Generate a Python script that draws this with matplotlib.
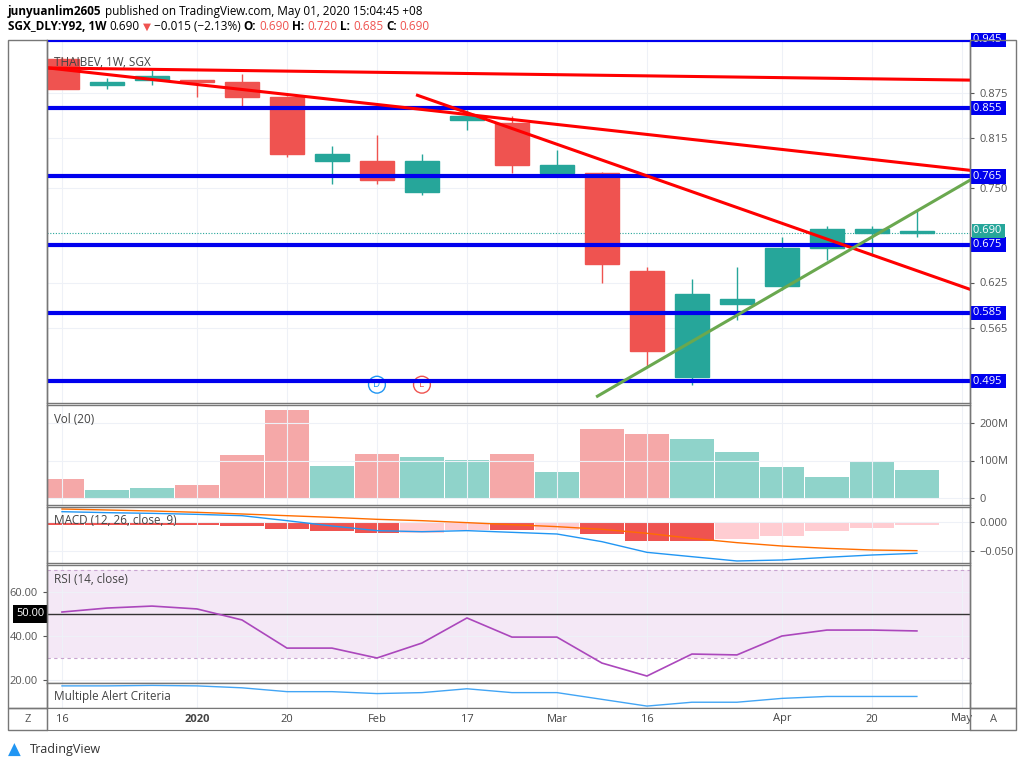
import matplotlib
matplotlib.use("Agg")
import matplotlib.pyplot as plt
from matplotlib.patches import Rectangle
from matplotlib.transforms import blended_transform_factory as btf

plt.rcParams["font.family"] = "Open Sans"

# ---------------- data ----------------
opens  = [0.920, 0.885, 0.892, 0.890, 0.890, 0.870, 0.785, 0.785, 0.745, 0.840, 0.835, 0.770, 0.770, 0.640, 0.500, 0.597, 0.620, 0.670, 0.690, 0.690]
highs  = [0.922, 0.895, 0.905, 0.890, 0.900, 0.871, 0.805, 0.820, 0.795, 0.852, 0.845, 0.800, 0.771, 0.645, 0.630, 0.645, 0.685, 0.700, 0.700, 0.720]
lows   = [0.880, 0.880, 0.885, 0.870, 0.855, 0.790, 0.755, 0.755, 0.740, 0.826, 0.770, 0.770, 0.625, 0.515, 0.490, 0.575, 0.615, 0.655, 0.660, 0.685]
closes = [0.880, 0.890, 0.897, 0.889, 0.870, 0.795, 0.795, 0.760, 0.785, 0.845, 0.780, 0.780, 0.650, 0.535, 0.610, 0.603, 0.670, 0.695, 0.695, 0.690]
volume_m = [51, 21, 27, 35, 115, 235, 85, 117, 109, 101, 117, 69, 184, 171, 157, 123, 83, 56, 99, 75]
macd_line = [0.0178, 0.0161, 0.0149, 0.0132, 0.0109, 0.0023, -0.0069, -0.0149, -0.0167, -0.0149, -0.0178, -0.0207, -0.0339, -0.0523, -0.0598, -0.0672, -0.0655, -0.0609, -0.0569, -0.0540]
signal_line = [0.0224, 0.0207, 0.0190, 0.0167, 0.0138, 0.0109, 0.0080, 0.0046, 0.0023, -0.0011, -0.0046, -0.0080, -0.0126, -0.0195, -0.0282, -0.0356, -0.0414, -0.0454, -0.0483, -0.0494]
macd_hist = [-0.005, -0.005, -0.005, -0.005, -0.007, -0.0126, -0.0155, -0.0195, -0.0184, -0.0138, -0.0138, -0.0138, -0.0207, -0.0322, -0.0322, -0.0299, -0.0236, -0.0155, -0.0098, -0.0046]
hist_rising = [0, 0, 0, 0, 0, 0, 0, 0, 1, 1, 0, 1, 0, 0, 0, 1, 1, 1, 1, 1]
rsi = [50.9, 52.7, 53.6, 52.3, 47.3, 34.5, 34.5, 30.0, 36.8, 48.2, 39.5, 39.5, 27.7, 21.8, 31.8, 31.4, 40.0, 42.7, 42.7, 42.3]
alert = [86, 86, 87, 86, 82, 74, 74, 70, 72, 80, 72, 72, 58, 44, 52, 52, 60, 64, 64, 64]
level_lines = [0.945, 0.855, 0.765, 0.675, 0.585, 0.495]
other_ticks = [0.875, 0.815, 0.750, 0.625, 0.565]
trend_red = [((-0.3, 0.908), (20.18, 0.892)), ((-0.3, 0.908), (20.18, 0.773)), ((7.9, 0.872), (20.18, 0.616))]
trend_green = ((11.9, 0.475), (20.18, 0.760))
tick_pos = [0, 3, 5, 7, 9, 11, 13, 16, 18, 20]
tick_labels = ["16", "2020", "20", "Feb", "17", "Mar", "16", "Apr", "20", "May"]
last_price = 0.690

UP, DN = "#26a69a", "#ef5350"
W, H = 1024, 768
fig = plt.figure(figsize=(W/100, H/100), dpi=100)
XL = (-0.333, 20.18)

def axp(x0, y0, x1, y1):
    return fig.add_axes([x0/W, 1-y1/H, (x1-x0)/W, (y1-y0)/H])

def style(ax):
    ax.set_xlim(*XL)
    ax.set_xticks(tick_pos)
    ax.tick_params(axis="x", length=0, labelbottom=False)
    ax.grid(True, color="#eef1f7", lw=0.8)
    for s in ax.spines.values():
        s.set_color("#777777"); s.set_linewidth(1)
    ax.yaxis.tick_right()
    ax.tick_params(axis="y", colors="#555555", labelsize=8, length=3)

# ---------- main ----------
ax = axp(47, 40, 970, 403)
style(ax)
ax.set_ylim(0.875 - (403-93)/758, 0.875 + (93-40)/758)
for i in range(len(opens)):
    c = UP if closes[i] >= opens[i] else DN
    ax.vlines(i, lows[i], highs[i], color=c, lw=1)
    b, t = min(opens[i], closes[i]), max(opens[i], closes[i])
    ax.add_patch(Rectangle((i-0.38, b), 0.76, max(t-b, 0.003), color=c, zorder=3))
for lv in level_lines:
    ax.axhline(lv, color="#0000ee", lw=3, zorder=4)
for (a, b) in trend_red:
    ax.plot([a[0], b[0]], [a[1], b[1]], color="#ff0000", lw=2.2, zorder=5)
ax.plot([trend_green[0][0], trend_green[1][0]], [trend_green[0][1], trend_green[1][1]], color="#6aa84f", lw=2.2, zorder=5)
ax.axhline(last_price, color=UP, lw=0.8, ls=(0, (1, 1.5)))
ax.set_yticks(other_ticks)
ax.set_yticklabels([f"{v:.3f}" for v in other_ticks])
tr = btf(ax.transAxes, ax.transData)
for lv in level_lines:
    ax.text(1.003, lv, f"{lv:.3f} ", transform=tr, color="white", fontsize=8, va="center", ha="left",
            bbox=dict(boxstyle="square,pad=0.15", fc="#0000ee", ec="none"), clip_on=False, zorder=6)
ax.text(1.003, last_price + 0.003, f"{last_price:.3f} ", transform=tr, color="white", fontsize=8, va="center", ha="left",
        bbox=dict(boxstyle="square,pad=0.1", fc=UP, ec="none"), zorder=7)
ax.text(0.008, 0.955, "THAIBEV, 1W, SGX", transform=ax.transAxes, fontsize=8.5, color="#444444", va="top")
for i, l, col in [(7, "D", "#2196f3"), (8, "E", "#ef5350")]:
    ax.text(i, 0.882 - (390-93)/758, l, color=col, fontsize=7, ha="center", va="center",
            bbox=dict(boxstyle="circle,pad=0.3", fc="white", ec=col, lw=1))

# ---------- volume ----------
av = axp(47, 405, 970, 505)
style(av)
av.set_ylim(-7/37.5*100, (498-405)/37.5*100)
for i, v in enumerate(volume_m):
    c = "#8fd3ca" if closes[i] >= opens[i] else "#f5a8a8"
    av.bar(i, v, width=0.97, color=c)
av.set_yticks([0, 100, 200]); av.set_yticklabels(["0", "100M", "200M"])
av.text(0.008, 0.92, "Vol (20)", transform=av.transAxes, fontsize=8.5, color="#444444", va="top")

# ---------- macd ----------
am = axp(47, 507, 970, 563)
style(am)
am.set_ylim(-(563-522)/580, (522-507)/580)
for i, h in enumerate(macd_hist):
    am.bar(i, h, width=0.97, color="#ffcdd2" if hist_rising[i] else DN)
am.plot(range(20), macd_line, color="#2196f3", lw=1)
am.plot(range(20), signal_line, color="#ff6d00", lw=1)
am.set_yticks([0, -0.05]); am.set_yticklabels(["0.000", "\u22120.050"])
am.text(0.008, 0.88, "MACD (12, 26, close, 9)", transform=am.transAxes, fontsize=8.5, color="#444444", va="top")

# ---------- rsi ----------
ar = axp(47, 565, 970, 683)
style(ar)
ar.yaxis.tick_left()
ar.set_ylim(50 - (683-614)/2.2, 50 + (614-565)/2.2)
ar.axhspan(30, 70, color="#9c27b0", alpha=0.1, lw=0)
for lv in (30, 70):
    ar.axhline(lv, color="#c8a3d0", lw=0.8, ls=(0, (3, 3)))
ar.axhline(50, color="#333333", lw=1)
ar.plot(range(20), rsi, color="#ab47bc", lw=1.2)
ar.set_yticks([20, 40, 60]); ar.set_yticklabels(["20.00", "40.00", "60.00"])
ar.text(-0.003, 50, "50.00", transform=btf(ar.transAxes, ar.transData), color="white", fontsize=8, ha="right", va="center",
        bbox=dict(boxstyle="square,pad=0.3", fc="black", ec="none"))
ar.text(0.008, 0.93, "RSI (14, close)", transform=ar.transAxes, fontsize=8.5, color="#444444", va="top")

# ---------- alert ----------
aa = axp(47, 683, 970, 708)
style(aa)
aa.set_yticks([])
aa.set_ylim(40, 92)
aa.plot(range(20), alert, color="#42a5f5", lw=1)
aa.text(0.008, 0.45, "Multiple Alert Criteria", transform=aa.transAxes, fontsize=8.5, color="#444444", va="center")

# ---------- time axis ----------
at = axp(47, 708, 970, 730)
at.set_xlim(*XL); at.set_ylim(0, 1)
at.set_yticks([]); at.set_xticks([])
for s in at.spines.values():
    s.set_color("#777777")
for p, l in zip(tick_pos, tick_labels):
    at.text(p, 0.5, l, ha="center", va="center", fontsize=8, color="#444444",
            fontweight="bold" if l == "2020" else "normal")
for x0, x1 in [(8, 47), (970, 1016)]:
    fig.add_artist(Rectangle((x0/W, 1-730/H), (x1-x0)/W, 22/H, fill=False, ec="#777777", lw=1, transform=fig.transFigure))
fig.text(28/W, 1-719/H, "Z", ha="center", va="center", fontsize=8, color="#555555")
fig.text(993/W, 1-719/H, "A", ha="center", va="center", fontsize=8, color="#555555")
fig.add_artist(Rectangle((8/W, 1-708/H), 39/W, 668/H, fill=False, ec="#777777", lw=1, transform=fig.transFigure))
fig.add_artist(Rectangle((970/W, 1-708/H), 46/W, 668/H, fill=False, ec="#777777", lw=1, transform=fig.transFigure))

# ---------- header (sequential layout) ----------
renderer = fig.canvas.get_renderer()
def seq(parts, y, x=8):
    for txt, kw in parts:
        opts = dict(va="center", fontsize=8.5)
        opts.update(kw)
        t = fig.text(x/W, 1-y/H, txt, **opts)
        bb = t.get_window_extent(renderer=renderer)
        x += bb.width + 3
seq([("junyuanlim2605", dict(fontweight="bold")),
     ("published on TradingView.com, May 01, 2020 15:04:45 +08", {})], 12)
seq([("SGX_DLY:Y92, 1W", dict(fontweight="bold")), ("0.690", {}),
     ("\u25BC", dict(color=DN, family="DejaVu Sans", fontsize=7.5)), ("\u22120.015 (\u22122.13%)", {}),
     ("O:", dict(fontweight="bold")), ("0.690", dict(color=DN)),
     ("H:", dict(fontweight="bold")), ("0.720", dict(color=DN)),
     ("L:", dict(fontweight="bold")), ("0.685", dict(color=DN)),
     ("C:", dict(fontweight="bold")), ("0.690", dict(color=DN))], 27)
fig.text(30/W, 1-750/H, "TradingView", fontsize=9, color="#333333", va="center")
fig.text(8/W, 1-750/H, "\u25B2", fontsize=12, color="#2196f3", va="center", family="DejaVu Sans")

fig.savefig("out.png", dpi=100)
